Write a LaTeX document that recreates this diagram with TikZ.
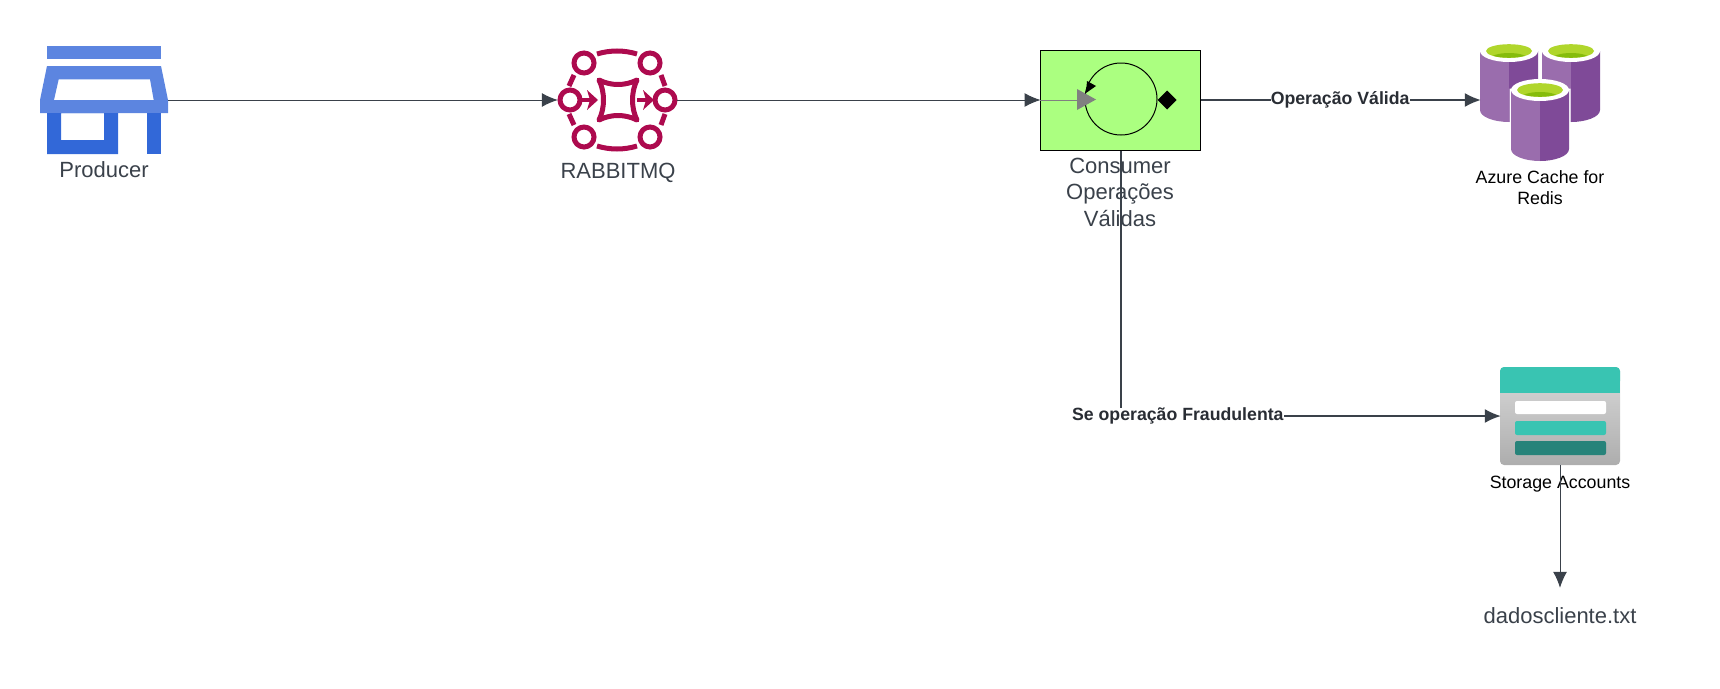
\documentclass[tikz,border=0pt]{standalone}
\usepackage{fontspec}
\setmainfont{Liberation Sans}
\usepackage{tikz}
\usetikzlibrary{arrows.meta}
\definecolor{inkgray}{HTML}{3A414A}
\definecolor{shoplight}{HTML}{5C85E0}
\definecolor{shopdark}{HTML}{3268D8}
\definecolor{rabbitred}{HTML}{AD0A4E}
\definecolor{boxgreen}{HTML}{ABFF80}
\definecolor{cyllight}{HTML}{9A6DAD}
\definecolor{cyldark}{HTML}{7F4A98}
\definecolor{toplight}{HTML}{B0D62C}
\definecolor{topdark}{HTML}{86BC0C}
\definecolor{storteal}{HTML}{39C4B2}
\definecolor{stordark}{HTML}{27837A}
\tikzset{
    conn/.style={draw=inkgray, line width=1pt, shorten >=-1pt, -{Latex[length=16pt,width=14pt]}},
    connthick/.style={conn, line width=1.6pt},
    lbl/.style={text=inkgray, font=\fontsize{22}{26.5}\selectfont, align=center, inner sep=0pt, anchor=base},
    azlbl/.style={text=black, font=\fontsize{17.8}{21}\selectfont, align=center, inner sep=0pt, anchor=base},
    edgelbl/.style={text=inkgray!70!black, fill=white, font=\fontsize{17.7}{21}\selectfont\bfseries, inner sep=0pt, anchor=center},
    anchorbox/.style={rectangle, inner sep=0pt, minimum width=#1, minimum height=20pt},
    rabline/.style={draw=rabbitred, line width=5pt}
}
\begin{document}
\begin{tikzpicture}[x=1pt, y=-1pt]
    \useasboundingbox (0,0) rectangle (1720,688);

    \node[anchorbox=128pt] (producer) at (104,100) {};
    \node[anchorbox=120pt] (rabbit) at (617,100) {};
    \node[rectangle, draw=black, line width=1pt, fill=boxgreen, inner sep=0pt, minimum width=160pt, minimum height=100pt] (consumer) at (1120,100) {};
    \node[anchorbox=120pt] (redis) at (1540,100) {};
    \node[rectangle, rounded corners=4pt, inner sep=0pt, minimum width=120pt, minimum height=98pt, top color=black!15, bottom color=black!32] (storage) at (1560,416) {};
    \node[inner sep=0pt, minimum size=0pt] (txtfile) at (1560,587) {};

    \node[lbl] (producerlbl) at (104,177) {Producer};
    \node[lbl] (rabbitlbl) at (618,178) {RABBITMQ};
    \node[lbl] (consumerlbl) at (1120,226) {Consumer\\Operações\\Válidas};
    \node[azlbl] (redislbl) at (1540,204) {Azure Cache for\\Redis};
    \node[azlbl] (storagelbl) at (1560,488) {Storage Accounts};
    \node[lbl] (txtlbl) at (1560,623) {dadoscliente.txt};

    % store
    \fill[shoplight] (47,46) rectangle (161,59);
    \fill[shoplight, even odd rule] (47,66) -- (161,66) -- (168,100) -- (168,113) -- (40,113) -- (40,100) -- cycle
        (58.7,79.3) -- (150,79.3) -- (153.7,100) -- (54,100) -- cycle;
    \fill[shopdark, even odd rule] (47,113) rectangle (118,154) (61,113) rectangle (104,140);
    \fill[shopdark] (147,113) rectangle (161,154);

    % rabbit
    \foreach \cx/\cy in {584/63, 650/63, 570/100, 665/100, 584/137, 650/137}
        \draw[rabline] (\cx,\cy) circle (10);
    \draw[rabline] (597,54) .. controls (610,50) and (624,50) .. (637,54);
    \draw[rabline] (597,146) .. controls (610,150) and (624,150) .. (637,146);
    \draw[rabline] (574,75) -- (569,86);
    \draw[rabline] (661,75) -- (665,86);
    \draw[rabline] (569,114) -- (574,125);
    \draw[rabline] (665,114) -- (661,125);
    \draw[rabline, line join=round] (599,80) .. controls (611,86) and (625,86) .. (637,80)
        .. controls (631,92) and (631,108) .. (637,120)
        .. controls (625,114) and (611,114) .. (599,120)
        .. controls (605,108) and (605,92) .. (599,80) -- cycle;
    \draw[rabbitred, line width=3.5pt] (581,100) -- (592,100);
    \fill[rabbitred] (587,90) -- (598,100) -- (587,110) -- (590,100) -- cycle;
    \draw[rabbitred, line width=3.5pt] (637,100) -- (648,100);
    \fill[rabbitred] (643,90) -- (654,100) -- (643,110) -- (646,100) -- cycle;

    % consumer
    \draw[black, line width=1pt] (1121,99) circle (36);
    \fill[black] (1087,81) -- (1096,86) -- (1086,93) -- cycle;
    \draw[black!50, line width=1pt] (consumer.west) -- (1078,100);
    \fill[black!50] (1077,89) -- (1096,99.5) -- (1077,110) -- cycle;
    \fill[black] (1167,90.5) -- (1176.5,100) -- (1167,109.5) -- (1157.5,100) -- cycle;

    % redis
    \foreach \cx/\cy in {1509/51, 1571/51, 1540/90} {
        \path[draw=white, line width=3pt] (\cx-29,\cy) -- (\cx-29,\cy+59) .. controls (\cx-29,\cy+66) and (\cx-15,\cy+71) .. (\cx,\cy+71)
            .. controls (\cx+15,\cy+71) and (\cx+29,\cy+66) .. (\cx+29,\cy+59) -- (\cx+29,\cy) -- cycle;
        \fill[cyllight] (\cx-29,\cy) -- (\cx-29,\cy+59) .. controls (\cx-29,\cy+66) and (\cx-15,\cy+71) .. (\cx,\cy+71) -- (\cx,\cy) -- cycle;
        \fill[cyldark] (\cx+29,\cy) -- (\cx+29,\cy+59) .. controls (\cx+29,\cy+66) and (\cx+15,\cy+71) .. (\cx,\cy+71) -- (\cx,\cy) -- cycle;
        \fill[white] (\cx,\cy) ellipse (29 and 11);
        \fill[toplight] (\cx,\cy) ellipse (23 and 6.8);
        \begin{scope}
            \clip (\cx,\cy) ellipse (23 and 6.8);
            \fill[topdark] (\cx,\cy+8) ellipse (19 and 6);
        \end{scope}
    }

    % storage
    \fill[storteal, rounded corners=4pt] (1500,367) rectangle (1620,385);
    \fill[storteal] (1500,378) rectangle (1620,393);
    \fill[white, rounded corners=2pt] (1515,401) rectangle (1606,414);
    \fill[storteal, rounded corners=2pt] (1515,421) rectangle (1606,435);
    \fill[stordark, rounded corners=2pt] (1515,441) rectangle (1606,455);

    \draw[conn] (producer.east) -- (rabbit.west);
    \draw[conn] (rabbit.east) -- (consumer.west);
    \draw[connthick] (consumer.east) -- node[edgelbl, pos=0.5] (validlbl) {Operação Válida} (redis.west);
    \draw[connthick] ([xshift=1pt]consumer.south) |- node[edgelbl, pos=0.575] (fraudlbl) {Se operação Fraudulenta} (storage.west);
    \draw[conn] (storage.south) -- (txtfile);
\end{tikzpicture}
\end{document}
